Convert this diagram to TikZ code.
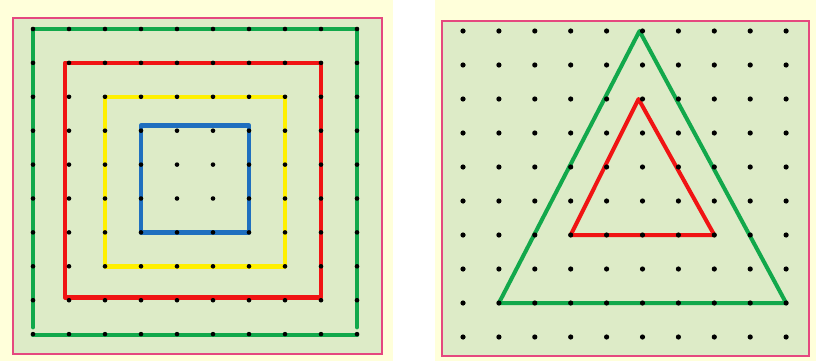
\documentclass[tikz,border=0pt]{standalone}
\usetikzlibrary{positioning}
\definecolor{paper}{HTML}{FFFFDA}
\definecolor{boardfill}{HTML}{DDEBC7}
\definecolor{rim}{HTML}{E5487F}
\definecolor{bandgreen}{HTML}{12A84B}
\definecolor{bandred}{HTML}{F01414}
\definecolor{bandyellow}{HTML}{FFF000}
\definecolor{bandblue}{HTML}{1F6FBF}

\begin{document}
\begin{tikzpicture}[
    x=1pt, y=-1pt,
    board/.style={draw=rim, line width=1.6pt, fill=boardfill},
    band/.style={line width=4.6pt, line join=round, line cap=round},
    thinband/.style={line width=4pt, line join=round, line cap=round}
]
\useasboundingbox (0,0) rectangle (816,361);
\fill[paper] (0,0) rectangle (393,361);
\fill[paper] (435,0) rectangle (816,361);
\draw[board] (13,18) rectangle (382,354);
\draw[board] (442,21) rectangle (809,356);
% pegs of both boards
\foreach \i in {0,...,9}
  \foreach \j in {0,...,9} {
    \coordinate (a-\i-\j) at ({33+36*\i},{29+33.9*\j});
    \coordinate (b-\i-\j) at ({463+35.9*\i},{31+34*\j});
  }
% left board: squares
\draw[band, bandgreen] ([yshift=7pt]a-0-9) -- (a-0-0) -- (a-9-0) -- ([yshift=7pt]a-9-9);
\draw[band, bandgreen] ([yshift=-1pt]a-0-9) -- ([yshift=-1pt]a-9-9);
\draw[band, bandred] ([xshift=-4pt]a-1-1) rectangle ([yshift=3pt]a-8-8);
\draw[band, bandyellow] (a-2-2) rectangle (a-7-7);
\draw[band, bandblue] ([yshift=5pt]a-3-3) rectangle (a-6-6);
% right board: triangles
\draw[thinband, bandgreen] ([xshift=-3pt]b-5-0) -- (b-9-8) -- (b-1-8) -- cycle;
\draw[thinband, bandred] ([xshift=-4pt]b-5-2) -- (b-7-6) -- (b-3-6) -- cycle;
\foreach \i in {0,...,9}
  \foreach \j in {0,...,9} {
    \fill (a-\i-\j) circle (2.3pt);
    \fill (b-\i-\j) circle (2.6pt);
  }
\end{tikzpicture}
\end{document}
